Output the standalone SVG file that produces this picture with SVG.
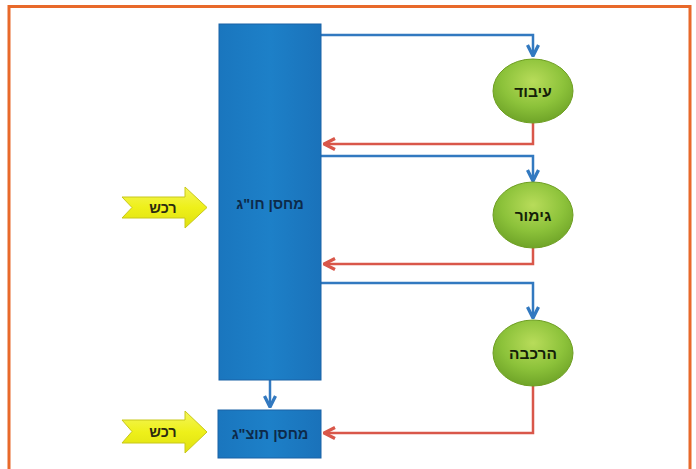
<svg xmlns="http://www.w3.org/2000/svg" width="696" height="469" viewBox="0 0 696 469">
<style>
.lbl{font-family:"Liberation Sans","DejaVu Sans",sans-serif;font-weight:bold;text-anchor:middle;dominant-baseline:central}
.blue{fill:none;stroke:#3279c0;stroke-width:2.5}
.red{fill:none;stroke:#d9574a;stroke-width:2.5}
.box{fill:url(#gBlue);stroke:#1a62a6;stroke-width:1}
.ell{fill:url(#gGreen);stroke:#6e9e22;stroke-width:1}
.yel{fill:url(#gYel);stroke:#c8c81a;stroke-width:1}
</style>
<defs>
<linearGradient id="gBlue" x1="0" y1="0" x2="1" y2="0">
<stop offset="0" stop-color="#1a76be"/><stop offset="0.5" stop-color="#1d80c8"/><stop offset="1" stop-color="#1a72ba"/>
</linearGradient>
<radialGradient id="gGreen" cx="0.5" cy="0.35" r="0.65">
<stop offset="0" stop-color="#b8dc5a"/><stop offset="0.6" stop-color="#8cc23a"/><stop offset="1" stop-color="#6fa428"/>
</radialGradient>
<linearGradient id="gYel" x1="0" y1="0" x2="0" y2="1">
<stop offset="0" stop-color="#f4f55a"/><stop offset="0.5" stop-color="#eef01a"/><stop offset="1" stop-color="#dfe010"/>
</linearGradient>
<marker id="aBlue" viewBox="0 0 10 10" refX="9" refY="5" markerWidth="5.5" markerHeight="5.5" orient="auto" markerUnits="strokeWidth">
<path d="M1,1 L9,5 L1,9" fill="none" stroke="#3279c0" stroke-width="2.4"/>
</marker>
<marker id="aRed" viewBox="0 0 10 10" refX="9" refY="5" markerWidth="5.5" markerHeight="5.5" orient="auto" markerUnits="strokeWidth">
<path d="M1,1 L9,5 L1,9" fill="none" stroke="#d9574a" stroke-width="2.4"/>
</marker>
</defs>
<rect width="696" height="469" fill="#ffffff"/>
<path d="M9,475 V6.5 H690 V475" fill="none" stroke="#e8692a" stroke-width="3"/>
<g id="connectors">
<path class="blue" d="M321,35 H533 V56" marker-end="url(#aBlue)"/>
<path class="red" d="M533,123 V144 H324" marker-end="url(#aRed)"/>
<path class="blue" d="M321,156 H533 V181" marker-end="url(#aBlue)"/>
<path class="red" d="M533,248 V264 H324" marker-end="url(#aRed)"/>
<path class="blue" d="M321,283 H533 V318" marker-end="url(#aBlue)"/>
<path class="red" d="M533,386 V433 H324" marker-end="url(#aRed)"/>
<path class="blue" d="M270,380 V407" marker-end="url(#aBlue)"/>
</g>
<g id="main-store">
<rect class="box" x="219" y="24" width="102" height="356"/>
<text class="lbl" x="270" y="204" font-size="14.5" fill="#0d2a4a">מחסן חו"ג</text>
</g>
<g id="product-store">
<rect class="box" x="218" y="410" width="103" height="48"/>
<text class="lbl" x="270" y="434" font-size="14.5" fill="#0d2a4a">מחסן תוצ"ג</text>
</g>
<g id="processing">
<ellipse class="ell" cx="533" cy="91" rx="40" ry="32"/>
<text class="lbl" x="533" y="91" font-size="15.5" fill="#142008">עיבוד</text>
</g>
<g id="finishing">
<ellipse class="ell" cx="533" cy="215" rx="40" ry="33"/>
<text class="lbl" x="533" y="215" font-size="15.5" fill="#142008">גימור</text>
</g>
<g id="assembly">
<ellipse class="ell" cx="533" cy="353" rx="40" ry="33"/>
<text class="lbl" x="533" y="353" font-size="15.5" fill="#142008">הרכבה</text>
</g>
<g id="purchase-1">
<path class="yel" d="M122,197 H185 V187 L207,207.5 L185,228 V218 H122 L132,207.5 Z"/>
<text class="lbl" x="163" y="208" font-size="14.5" fill="#2a2a10">רכש</text>
</g>
<g id="purchase-2">
<path class="yel" d="M122,420 H185 V411 L207,432 L185,453 V443 H122 L132,431.5 Z"/>
<text class="lbl" x="163" y="432" font-size="14.5" fill="#2a2a10">רכש</text>
</g>
</svg>
